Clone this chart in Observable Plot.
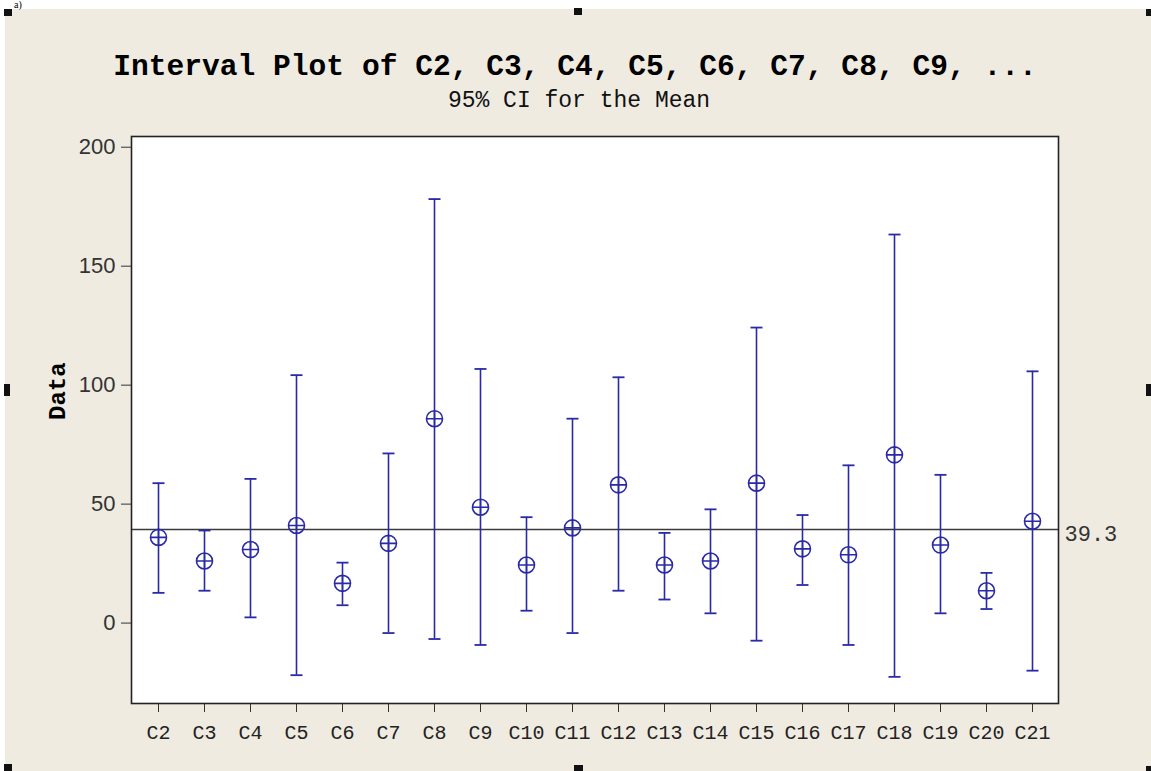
<!DOCTYPE html>
<html>
<head>
<meta charset="utf-8">
<script src="https://cdn.jsdelivr.net/npm/d3@7"></script>
<script src="https://cdn.jsdelivr.net/npm/@observablehq/plot@0.6"></script>
<style>
  html, body { margin: 0; padding: 0; background: #ffffff; width: 1151px; height: 771px; overflow: hidden; }
  #bg { position: absolute; left: 5px; top: 9px; width: 1146px; height: 762px; background: #EFEBE1; }
  .abs { position: absolute; }
  .title { left: 0; width: 1150px; text-align: center; font-family: "Liberation Mono", monospace; color: #000; white-space: nowrap; }
  .handle { position: absolute; background: #111; }
  #chart { position: absolute; left: 5px; top: 118px; }
</style>
</head>
<body>
<div id="bg"></div>
<div class="abs" style="left:14px; top:0px; font-family:'Liberation Serif', serif; font-size:10px; line-height:10px; color:#000;">a)</div>
<div class="abs title" id="title" style="top:53px; font-size:29.6px; line-height:29.6px; font-weight:bold;"></div>
<div class="abs title" id="subtitle" style="top:90px; left:4px; font-size:23px; line-height:23px; color:#111;"></div>
<div id="chart"></div>
<div class="handle" style="left:4px; top:9px; width:8px; height:7px;"></div>
<div class="handle" style="left:574px; top:8px; width:8px; height:7px;"></div>
<div class="handle" style="left:1146px; top:9px; width:5px; height:7px;"></div>
<div class="handle" style="left:4px; top:384px; width:6px; height:12px;"></div>
<div class="handle" style="left:1146px; top:384px; width:5px; height:12px;"></div>
<div class="handle" style="left:4px; top:764px; width:8px; height:7px;"></div>
<div class="handle" style="left:574px; top:765px; width:9px; height:6px;"></div>
<div class="handle" style="left:1146px; top:766px; width:5px; height:5px;"></div>
<script>
// ---- data ----
const titleText = "Interval Plot of C2, C3, C4, C5, C6, C7, C8, C9, ...";
const subtitleText = "95% CI for the Mean";
const yLabel = "Data";
const categories = ["C2","C3","C4","C5","C6","C7","C8","C9","C10","C11","C12","C13","C14","C15","C16","C17","C18","C19","C20","C21"];
const means = [36.0, 26.1, 30.9, 41.0, 16.7, 33.5, 85.9, 48.7, 24.4, 40.0, 58.1, 24.4, 26.1, 58.8, 31.2, 28.7, 70.7, 32.8, 13.6, 42.8];
const lower = [12.7, 13.6, 2.4, -21.9, 7.5, -4.2, -6.7, -9.2, 5.2, -4.2, 13.6, 9.9, 4.1, -7.4, 16.0, -9.2, -22.6, 4.1, 5.9, -20.0];
const upper = [58.8, 38.9, 60.6, 104.2, 25.4, 71.3, 178.2, 106.8, 44.5, 85.9, 103.3, 37.9, 47.8, 124.2, 45.4, 66.3, 163.3, 62.3, 21.1, 105.8];
const grandMean = [39.3];
const yTicks = [0, 50, 100, 150, 200];

document.getElementById("title").textContent = titleText;
document.getElementById("subtitle").textContent = subtitleText;

const rows = categories.map((c, i) => ({cat: c, mean: means[i], lo: lower[i], hi: upper[i]}));

const blue = "#2a2aa8";

const capSymbol = {
  draw(ctx, size) {
    const r = Math.sqrt(size / Math.PI);
    ctx.moveTo(-r, 0); ctx.lineTo(r, 0);
  }
};
const circlePlus = {
  draw(ctx, size) {
    const r = Math.sqrt(size / Math.PI);
    ctx.moveTo(r, 0);
    ctx.arc(0, 0, r, 0, 2 * Math.PI);
    ctx.moveTo(-r, 0); ctx.lineTo(r, 0);
    ctx.moveTo(0, -r); ctx.lineTo(0, r);
  }
};

const chart = Plot.plot({
  width: 1146,
  height: 648,
  marginTop: 18,
  marginBottom: 63,
  marginLeft: 126,
  marginRight: 93,
  style: {background: "transparent", overflow: "visible"},
  x: {type: "point", domain: categories, padding: 0.5},
  y: {domain: [-33.8, 204.5]},
  marks: [
    Plot.frame({fill: "#ffffff", stroke: "none"}),
    Plot.axisY({
      ticks: yTicks, tickSize: 10, tickPadding: 6, label: null,
      fontSize: 22, fontFamily: "'Liberation Sans', Arial, sans-serif", color: "#333", stroke: "#333"
    }),
    Plot.axisX({
      tickSize: 9, tickPadding: 12, label: null,
      fontSize: 20, fontFamily: "'Liberation Mono', monospace", color: "#222", stroke: "#333"
    }),
    Plot.ruleY(grandMean, {stroke: "#3a3a3a", strokeWidth: 1.4}),
    Plot.text(grandMean, {
      y: d => d, frameAnchor: "right", dx: 6, dy: 4, textAnchor: "start",
      text: d => d.toFixed(1), fontSize: 22, fontFamily: "'Liberation Mono', monospace", fill: "#333"
    }),
    Plot.text([yLabel], {
      frameAnchor: "left", dx: -74, rotate: -90, text: d => d,
      fontSize: 24, fontWeight: "bold", fontFamily: "'Liberation Mono', monospace", fill: "#000"
    }),
    Plot.ruleX(rows, {x: "cat", y1: "lo", y2: "hi", stroke: blue, strokeWidth: 1.6}),
    Plot.dot(rows, {x: "cat", y: "hi", symbol: capSymbol, r: 6, stroke: blue, fill: "none", strokeWidth: 1.8}),
    Plot.dot(rows, {x: "cat", y: "lo", symbol: capSymbol, r: 6, stroke: blue, fill: "none", strokeWidth: 1.8}),
    Plot.dot(rows, {x: "cat", y: "mean", symbol: circlePlus, r: 8, stroke: blue, fill: "none", strokeWidth: 1.6}),
    Plot.frame({stroke: "#222", strokeWidth: 1.6})
  ]
});
document.getElementById("chart").appendChild(chart);
</script>
</body>
</html>
